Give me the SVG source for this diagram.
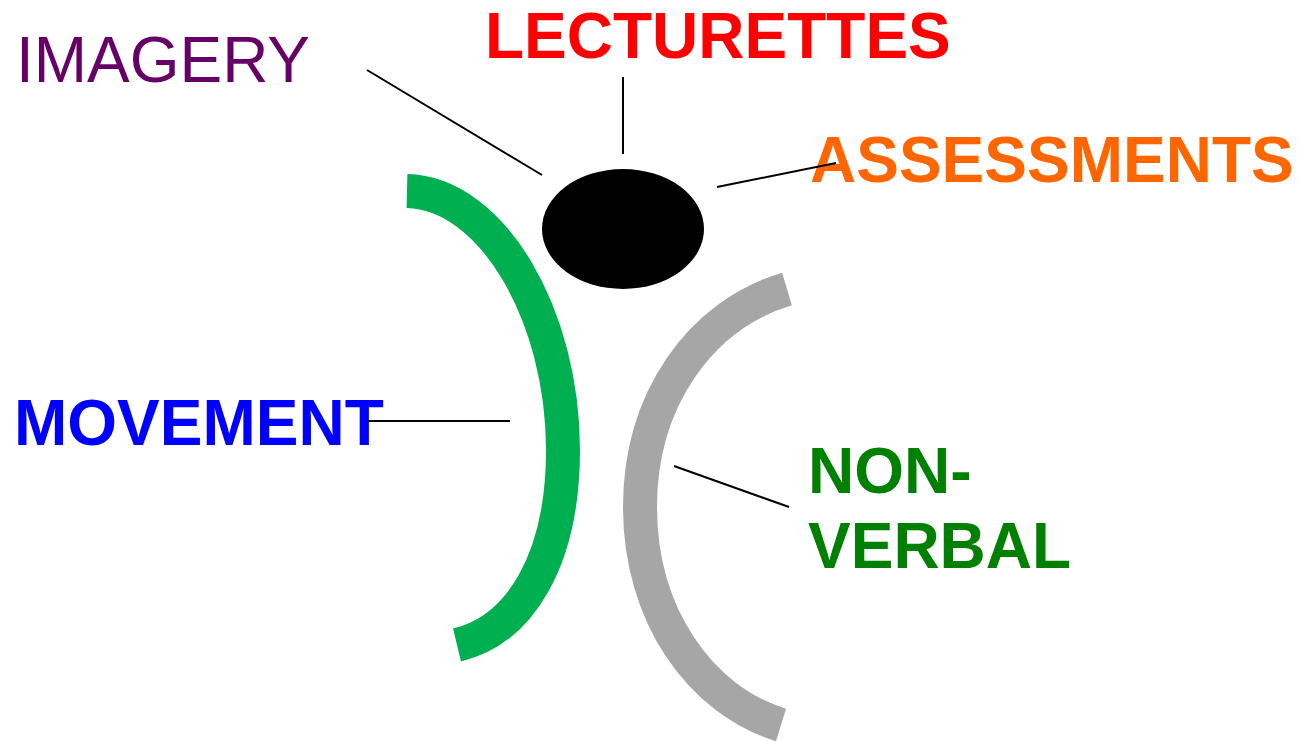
<svg xmlns="http://www.w3.org/2000/svg" width="1299" height="741" viewBox="0 0 1299 741">
<style>
text{font-family:"Liberation Sans",Arial,sans-serif;font-size:64px}
.b{font-weight:bold}
.arc{fill:none;stroke-width:34}
.conn line{stroke:#000;stroke-width:2}
</style>
<rect width="1299" height="741" fill="#fff"/>
<g id="green-arc"><path class="arc" stroke="#00B050" d="M407,191 C492,193 563,315 563,450 C563,560 520,630 457,645"/></g>
<g id="gray-arc"><path class="arc" stroke="#A6A6A6" d="M787,289 C700,315 640,400 640,507 C640,615 700,700 781,725"/></g>
<g id="head"><ellipse cx="623" cy="229" rx="81" ry="60" fill="#000"/></g>
<g id="imagery"><text x="16" y="82" fill="#660066">IMAGERY</text></g>
<g id="lecturettes"><text class="b" x="485" y="58" fill="#FF0000">LECTURETTES</text></g>
<g id="assessments"><text class="b" x="810" y="182" fill="#FF6600">ASSESSMENTS</text></g>
<g id="movement"><text class="b" x="14" y="445" fill="#0000FF">MOVEMENT</text></g>
<g id="nonverbal"><text class="b" x="808" y="493" fill="#008000">NON-</text><text class="b" x="808" y="568" fill="#008000">VERBAL</text></g>
<g class="conn" id="connectors">
<line x1="367" y1="70" x2="542" y2="175"/>
<line x1="623" y1="77" x2="623" y2="154"/>
<line x1="717" y1="187" x2="836" y2="163"/>
<line x1="368" y1="421" x2="510" y2="421"/>
<line x1="674" y1="466" x2="789" y2="507"/>
</g>
</svg>
